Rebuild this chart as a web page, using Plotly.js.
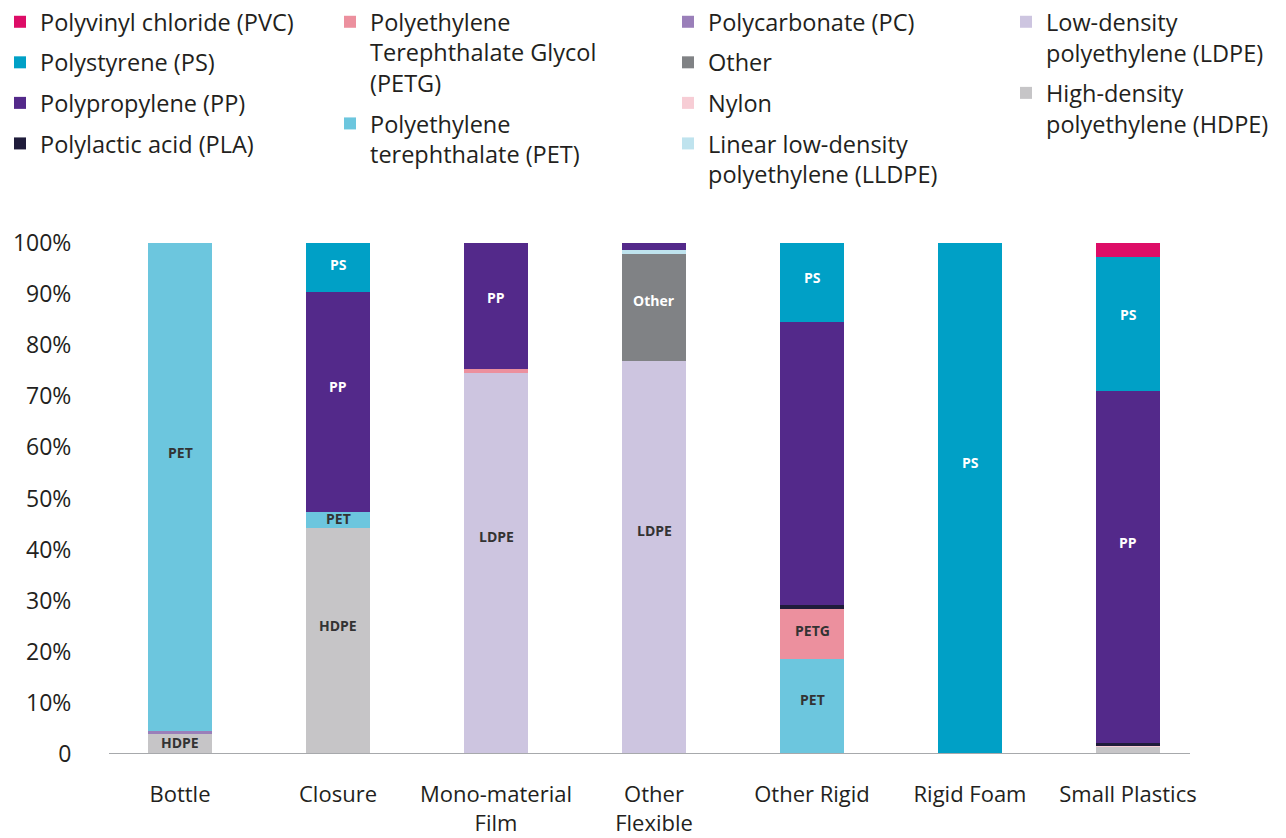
<!DOCTYPE html>
<html>
<head>
<meta charset="utf-8">
<script src="https://cdn.plot.ly/plotly-3.0.1.min.js"></script>
<style>html,body{margin:0;padding:0;background:#fff;}#chart{width:1286px;height:838px;}</style>
</head>
<body>
<div id="chart"></div>
<script>
const categories = ['Bottle', 'Closure', 'Mono-material<br>Film', 'Other<br>Flexible', 'Other Rigid', 'Rigid Foam', 'Small Plastics'];

// shares (%) per category, same order as categories
const hdpe  = [4.0, 44.2, 0, 0, 0, 0, 1.3];
const pc    = [0.5, 0, 0, 0, 0, 0, 0];
const ldpe  = [0, 0, 74.6, 76.9, 0, 0, 0];
const nylon = [0, 0, 0, 0, 0, 0, 0.3];
const pet   = [95.5, 3.2, 0, 0, 18.6, 0, 0];
const petg  = [0, 0, 0.7, 0, 9.8, 0, 0];
const pla   = [0, 0, 0, 0, 0.8, 0, 0.6];
const other = [0, 0, 0, 20.9, 0, 0, 0];
const lldpe = [0, 0, 0, 0.8, 0, 0, 0];
const pp    = [0, 43.0, 24.7, 1.4, 55.3, 0, 68.8];
const ps    = [0, 9.6, 0, 0, 15.5, 100, 26.3];
const pvc   = [0, 0, 0, 0, 0, 0, 2.7];

// segment labels shown on the bars (empty = no label)
const hdpeLabels  = ['HDPE', 'HDPE', '', '', '', '', ''];
const ldpeLabels  = ['', '', 'LDPE', 'LDPE', '', '', ''];
const petLabels   = ['PET', 'PET', '', '', 'PET', '', ''];
const petgLabels  = ['', '', '', '', 'PETG', '', ''];
const otherLabels = ['', '', '', 'Other', '', '', ''];
const ppLabels    = ['', 'PP', 'PP', '', '', '', 'PP'];
const psLabels    = ['', 'PS', '', '', 'PS', 'PS', 'PS'];
const noLabels    = ['', '', '', '', '', '', ''];

const yTickVals = [0, 10, 20, 30, 40, 50, 60, 70, 80, 90, 100];
const yTickText = ['0', '10%', '20%', '30%', '40%', '50%', '60%', '70%', '80%', '90%', '100%'];

// stack order bottom -> top
const series = [
  {vals: hdpe,  labels: hdpeLabels,  name: 'High-density<br>polyethylene (HDPE)', color: '#c6c5c7', tc: '#333333', legend: 'legend4', rank: 2},
  {vals: pc,    labels: noLabels,    name: 'Polycarbonate (PC)', color: '#9a7fb9', tc: '#ffffff', legend: 'legend3', rank: 1},
  {vals: ldpe,  labels: ldpeLabels,  name: 'Low-density<br>polyethylene (LDPE)', color: '#cdc5e0', tc: '#333333', legend: 'legend4', rank: 1},
  {vals: nylon, labels: noLabels,    name: 'Nylon', color: '#f7cdd5', tc: '#333333', legend: 'legend3', rank: 3},
  {vals: pet,   labels: petLabels,   name: 'Polyethylene<br>terephthalate (PET)', color: '#6cc6de', tc: '#333333', legend: 'legend2', rank: 2},
  {vals: petg,  labels: petgLabels,  name: 'Polyethylene<br>Terephthalate Glycol<br>(PETG)', color: '#ec909e', tc: '#333333', legend: 'legend2', rank: 1},
  {vals: pla,   labels: noLabels,    name: 'Polylactic acid (PLA)', color: '#1f1c3b', tc: '#ffffff', legend: 'legend', rank: 4},
  {vals: other, labels: otherLabels, name: 'Other', color: '#808285', tc: '#ffffff', legend: 'legend3', rank: 2},
  {vals: lldpe, labels: noLabels,    name: 'Linear low-density<br>polyethylene (LLDPE)', color: '#bfe3ee', tc: '#333333', legend: 'legend3', rank: 4},
  {vals: pp,    labels: ppLabels,    name: 'Polypropylene (PP)', color: '#53298a', tc: '#ffffff', legend: 'legend', rank: 3},
  {vals: ps,    labels: psLabels,    name: 'Polystyrene (PS)', color: '#00a0c6', tc: '#ffffff', legend: 'legend', rank: 2},
  {vals: pvc,   labels: noLabels,    name: 'Polyvinyl chloride (PVC)', color: '#dd0d67', tc: '#ffffff', legend: 'legend', rank: 1}
];

const traces = series.map((s, i) => ({
  type: 'bar',
  x: categories,
  y: s.vals,
  name: s.name,
  legend: s.legend,
  legendrank: s.rank,
  legendgroup: 'g' + i,
  marker: {color: s.color, line: {width: 0}},
  width: 0.41,
  hoverinfo: 'skip'
}));

// segment labels, placed in data coordinates from the stacked values
const annotations = [];
const base = categories.map(() => 0);
series.forEach(s => {
  s.vals.forEach((v, j) => {
    if (s.labels[j]) {
      annotations.push({
        x: categories[j], y: base[j] + v * 0.57, xref: 'x', yref: 'y',
        text: s.labels[j], showarrow: false,
        font: {family: 'Open Sans', size: 14, color: s.tc, weight: 700}
      });
    }
    base[j] += v;
  });
});

const legFont = {family: 'Open Sans', size: 23.5, color: '#231f20'};
function leg(x) {
  return {x: x, y: 1.0, xanchor: 'left', yanchor: 'top', xref: 'paper', yref: 'container',
          orientation: 'v', font: legFont, bgcolor: 'rgba(0,0,0,0)', borderwidth: 0, valign: 'top',
          traceorder: 'grouped', tracegroupgap: 7, itemclick: false, itemdoubleclick: false};
}

const W = 1286, L = 101, R = 79;
function px(p) { return (p - L) / (W - L - R); }

const layout = {
  width: 1286, height: 838,
  margin: {l: L, r: R, t: 243, b: 84},
  paper_bgcolor: '#ffffff', plot_bgcolor: '#ffffff',
  barmode: 'stack',
  font: {family: 'Open Sans', color: '#231f20'},
  showlegend: true,
  legend: leg(px(-8)),
  legend2: leg(px(330)),
  legend3: leg(px(668)),
  legend4: leg(px(1006)),
  xaxis: {
    type: 'category', range: [-0.5, 6.5], showgrid: false, zeroline: false, showline: false,
    ticks: 'outside', ticklen: 21, tickcolor: 'rgba(0,0,0,0)',
    tickfont: {family: 'Open Sans', size: 22, color: '#231f20'}, fixedrange: true
  },
  yaxis: {
    range: [0, 100], showgrid: false, zeroline: false, showline: false,
    tickvals: yTickVals, ticktext: yTickText,
    ticks: 'outside', ticklen: 24, tickcolor: 'rgba(0,0,0,0)',
    tickfont: {family: 'Open Sans', size: 23, color: '#231f20'}, fixedrange: true
  },
  annotations: annotations,
  shapes: [{type: 'line', xref: 'paper', yref: 'y', x0: px(109), x1: px(1190), y0: 0, y1: 0,
            line: {color: '#a7a9ac', width: 2}}]
};

Plotly.newPlot('chart', traces, layout, {displayModeBar: false, staticPlot: true});
</script>
</body>
</html>
